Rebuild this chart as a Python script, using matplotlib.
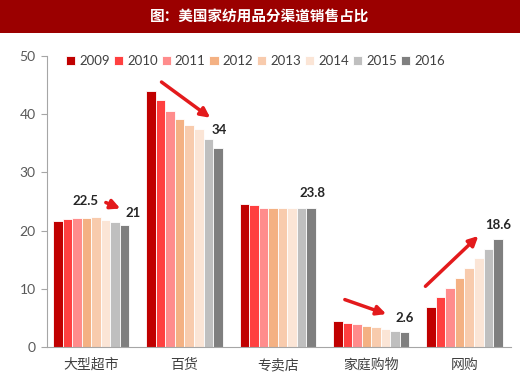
import numpy as np
import matplotlib.pyplot as plt
from matplotlib.patches import Rectangle

plt.rcParams['font.family'] = ['Lato', 'Noto Sans CJK SC', 'DejaVu Sans']

# data
channels = ["大型超市", "百货", "专卖店", "家庭购物", "网购"]
years = ["2009", "2010", "2011", "2012", "2013", "2014", "2015", "2016"]
colors = ["#C00000", "#FF4040", "#FF8C8C", "#F4B183", "#F8CBAD", "#FBE5D6", "#BFBFBF", "#7F7F7F"]
v2009 = [21.7, 43.9, 24.5, 4.4, 6.8]
v2010 = [22.0, 42.4, 24.4, 4.1, 8.6]
v2011 = [22.1, 40.6, 23.8, 3.9, 10.2]
v2012 = [22.2, 39.1, 23.8, 3.6, 11.9]
v2013 = [22.4, 38.2, 23.8, 3.4, 13.5]
v2014 = [21.9, 37.5, 23.8, 3.1, 15.3]
v2015 = [21.4, 35.8, 23.8, 2.8, 16.9]
v2016 = [21.0, 34.1, 23.8, 2.6, 18.6]
series = [v2009, v2010, v2011, v2012, v2013, v2014, v2015, v2016]

# annotation labels: (text, x, y)
labels = [("22.5", -0.06, 25.0), ("21", 0.45, 23.1), ("34", 1.37, 37.2),
          ("23.8", 2.37, 26.5), ("2.6", 3.36, 5.0), ("18.6", 4.36, 21.0)]
arrows = [((0.13, 25.0), (0.34, 23.6)), ((0.73, 45.8), (1.30, 39.1)),
          ((2.69, 8.3), (3.19, 5.5)), ((3.56, 10.1), (4.17, 19.4))]

fig = plt.figure(figsize=(5.2, 3.77), dpi=100)

# title banner
fig.patches.append(Rectangle((0, 1 - 33 / 377), 1, 33 / 377, transform=fig.transFigure,
                             facecolor="#9B0000", edgecolor="none"))
fig.text(0.5, 1 - 17 / 377, "图：美国家纺用品分渠道销售占比", color="white",
         fontsize=10.5, fontweight="bold", ha="center", va="center",
         family=["Noto Sans CJK SC", "DejaVu Sans"])

ax = fig.add_axes([0.090, 0.0796, 0.893, 0.772])
x = np.arange(len(channels))
w = 0.102
for i, (yr, vals) in enumerate(zip(years, series)):
    ax.bar(x + (i - 3.5) * w, vals, width=w, color=colors[i], edgecolor="white",
           linewidth=0.6, label=yr)

ax.set_xlim(-0.475, 4.5)
ax.set_ylim(0, 50)
ax.set_yticks([0, 10, 20, 30, 40, 50])
ax.set_xticks(x)
ax.set_xticklabels(channels, family=["Noto Sans CJK SC", "DejaVu Sans"], fontsize=10, color="#404040")
ax.tick_params(axis="x", length=0, pad=8)
ax.tick_params(axis="y", length=4, color="#A6A6A6", labelsize=10, labelcolor="#595959", pad=4)
for s in ["top", "right"]:
    ax.spines[s].set_visible(False)
ax.spines["left"].set_color("#A6A6A6")
ax.spines["bottom"].set_color("#A6A6A6")

for (a, b) in arrows:
    ax.annotate("", xy=b, xytext=a,
                arrowprops=dict(arrowstyle="-|>", color="#E31A1C", lw=2.5, mutation_scale=14))
for txt, tx, ty in labels:
    ax.text(tx, ty, txt, ha="center", va="center", fontsize=9.5, fontweight="bold", color="#262626")

leg = ax.legend(loc="upper left", bbox_to_anchor=(0.03, 1.02), ncol=8, frameon=False,
                fontsize=9.5, handlelength=0.7, handleheight=0.7, handletextpad=0.3,
                columnspacing=0.3, borderaxespad=0)
for t in leg.get_texts():
    t.set_color("#404040")

fig.savefig("out.png", dpi=100)
